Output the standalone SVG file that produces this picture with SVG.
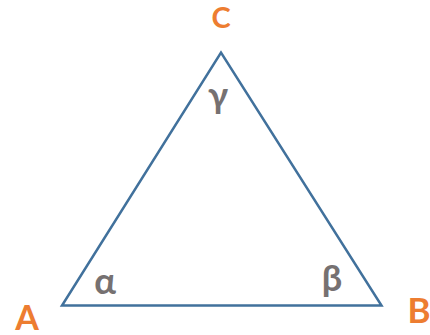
<svg xmlns="http://www.w3.org/2000/svg" width="430" height="335" viewBox="0 0 430 335">
<style>
.v{font-family:Lato,"Liberation Sans",sans-serif;font-weight:bold;fill:#ED7D31;text-anchor:middle}
.g{font-family:Lato,"Liberation Sans",sans-serif;font-weight:bold;fill:#767171;text-anchor:middle;font-size:36px}
</style>
<rect width="430" height="335" fill="#fff"/>
<g id="connectors">
<polygon points="62,305.5 381.5,305.5 221,52.5" fill="none" stroke="#41719C" stroke-width="2.5" stroke-linejoin="miter"/>
</g>
<g id="A"><text class="v" x="27" y="330" font-size="34">A</text></g>
<g id="B"><text class="v" x="419" y="323" font-size="35">B</text></g>
<g id="C"><text class="v" x="221" y="28" font-size="29">C</text></g>
<g id="alpha"><text class="g" x="105" y="294">α</text></g>
<g id="beta"><text class="g" x="332" y="291">β</text></g>
<g id="gamma"><text class="g" x="218" y="108">γ</text></g>
</svg>
